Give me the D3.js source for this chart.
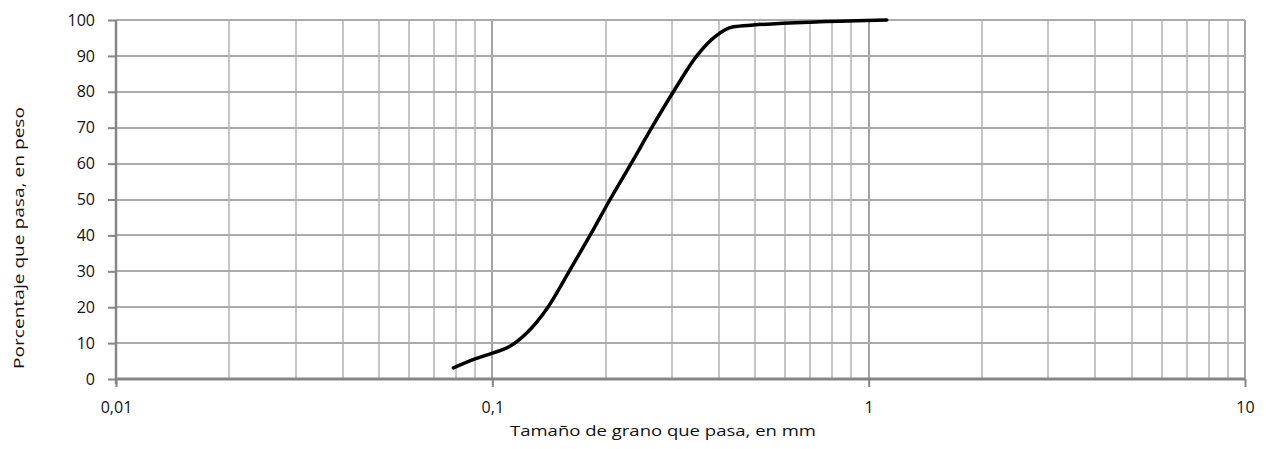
<!DOCTYPE html>
<html>
  <head>
    <meta charset="utf-8">
    <title>Curva granulométrica</title>
    <script src="https://d3js.org/d3.v7.min.js"></script>
    <style>
      body { margin: 0; background: #fff; }
      svg text { font-family: "Open Sans", sans-serif; fill: #111; }
      .grid line { shape-rendering: crispEdges; }
    </style>
  </head>
  <body>
    <svg id="chart" width="1266" height="449"></svg>
    <script>
      // grain size (mm) and percent passing
      const sizes = [0.0788, 0.09, 0.1, 0.1114, 0.1234, 0.1405, 0.16, 0.1818, 0.2055, 0.2337, 0.2652, 0.3027, 0.3493, 0.39, 0.437, 0.494, 0.743, 1.117];
      const passing = [3.1, 5.6, 7.2, 9.1, 12.8, 20, 30, 40, 50, 60, 70, 80, 90, 95.3, 98.1, 98.6, 99.5, 100];
      const xTicks = [0.01, 0.1, 1, 10];
      const xTickLabels = ["0,01", "0,1", "1", "10"];
      const yTicks = d3.range(0, 101, 10);
      const xTitle = "Tamaño de grano que pasa, en mm";
      const yTitle = "Porcentaje que pasa, en peso";

      const svg = d3.select("#chart");
      const margin = { left: 116, right: 21, top: 20, bottom: 70 };
      const width = 1266, height = 449;

      const x = d3.scaleLog()
        .domain([0.01, 10])
        .range([margin.left, width - margin.right]);
      const y = d3.scaleLinear()
        .domain([0, 100])
        .range([height - margin.bottom, margin.top]);

      // minor grid values 0.02..9
      const minor = [];
      [0.01, 0.1, 1].forEach(function(base) {
        d3.range(2, 10).forEach(function(k) { minor.push(base * k); });
      });

      const grid = svg.append("g").classed("grid", true);
      grid.selectAll(".vminor")
          .data(minor)
        .enter().append("line")
          .attr("x1", function(d) { return Math.round(x(d)); })
          .attr("x2", function(d) { return Math.round(x(d)); })
          .attr("y1", y(100))
          .attr("y2", y(0))
          .attr("stroke", "#c6c6c6")
          .attr("stroke-width", 2);
      grid.selectAll(".vmajor")
          .data(xTicks.slice(1))
        .enter().append("line")
          .attr("x1", function(d) { return Math.round(x(d)); })
          .attr("x2", function(d) { return Math.round(x(d)); })
          .attr("y1", y(100))
          .attr("y2", y(0))
          .attr("stroke", "#a3a3a3")
          .attr("stroke-width", 2);
      grid.selectAll(".h")
          .data(yTicks.slice(1))
        .enter().append("line")
          .attr("x1", x(0.01))
          .attr("x2", x(10))
          .attr("y1", function(d) { return Math.round(y(d)); })
          .attr("y2", function(d) { return Math.round(y(d)); })
          .attr("stroke", "#ababab")
          .attr("stroke-width", 2);

      // y axis
      const yAxis = d3.axisLeft(y)
        .tickValues(yTicks)
        .tickSize(8)
        .tickPadding(13)
        .tickFormat(d3.format("d"));
      const gy = svg.append("g")
        .attr("transform", "translate(" + x(0.01) + ",0)")
        .call(yAxis);
      gy.select(".domain").remove();
      gy.append("line")
        .attr("y1", y(100))
        .attr("y2", y(0) + 5)
        .attr("stroke", "#868686")
        .attr("stroke-width", 2.5);
      gy.selectAll(".tick line").attr("stroke", "#868686").attr("stroke-width", 2);
      gy.selectAll(".tick text").style("font-size", "16px");

      // x axis
      const xAxis = d3.axisBottom(x)
        .tickValues(xTicks)
        .tickSize(8)
        .tickPadding(15)
        .tickFormat(function(d, i) { return xTickLabels[i]; });
      const gx = svg.append("g")
        .attr("transform", "translate(0," + y(0) + ")")
        .call(xAxis);
      gx.select(".domain").remove();
      gx.append("line")
        .attr("x1", x(0.01))
        .attr("x2", x(10))
        .attr("stroke", "#868686")
        .attr("stroke-width", 3);
      gx.selectAll(".tick line").attr("stroke", "#868686").attr("stroke-width", 2);
      gx.selectAll(".tick text").style("font-size", "16px");

      // curve
      const line = d3.line()
        .x(function(d, i) { return x(sizes[i]); })
        .y(function(d) { return y(d); })
        .curve(d3.curveMonotoneX);
      svg.append("path")
        .datum(passing)
        .attr("d", line)
        .attr("fill", "none")
        .attr("stroke", "#000")
        .attr("stroke-width", 3.5)
        .attr("stroke-linecap", "round")
        .attr("stroke-linejoin", "round");

      // axis titles
      svg.append("text")
        .attr("x", 663)
        .attr("y", 436)
        .attr("text-anchor", "middle")
        .attr("textLength", 306)
        .attr("lengthAdjust", "spacingAndGlyphs")
        .style("font-size", "15px")
        .text(xTitle);
      svg.append("text")
        .attr("transform", "translate(24,238) rotate(-90)")
        .attr("text-anchor", "middle")
        .attr("textLength", 262)
        .attr("lengthAdjust", "spacingAndGlyphs")
        .style("font-size", "15px")
        .text(yTitle);
    </script>
  </body>
</html>
